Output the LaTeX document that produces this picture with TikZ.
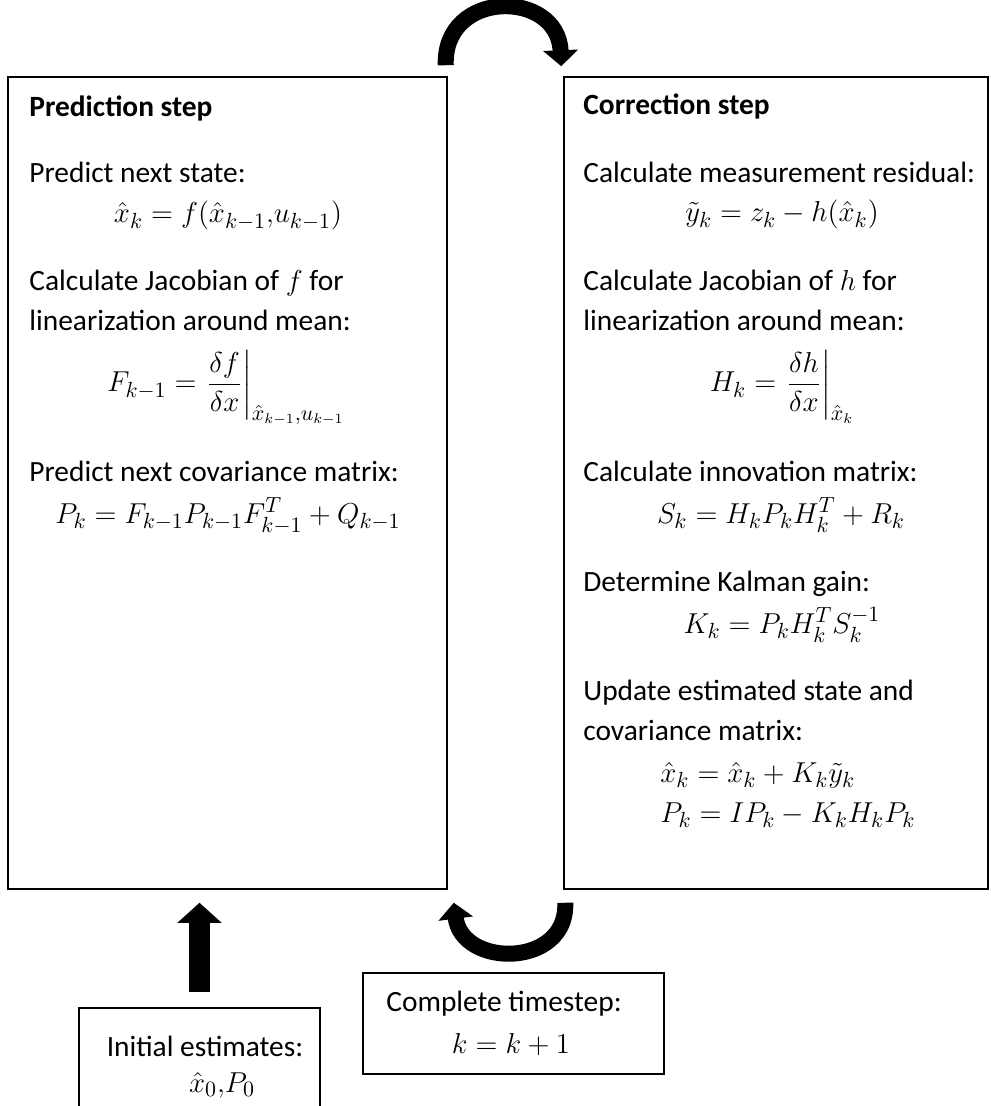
\documentclass[tikz,border=0pt]{standalone}
\usepackage{amsmath}
\usepackage{fontspec}
\setmainfont{Carlito}
\usepackage{tikz}
\usetikzlibrary{arrows.meta, positioning}

\newcommand{\fs}{\fontsize{14.7}{20}\selectfont}
\newcommand{\fm}{\fontsize{15}{20}\selectfont}
\tikzset{
  stepbox/.style={draw, line width=0.75pt, inner sep=0pt},
  txt/.style={anchor=base west, inner sep=0pt, font=\fs},
  eqn/.style={anchor=base, inner sep=0pt, font=\fm},
  curvearrow/.style={line width=8pt, -{Triangle[length=8pt,width=17pt]}},
  uparrow/.style={line width=10.5pt, -{Triangle[length=10pt,width=21.5pt]}},
}

\begin{document}
\begin{tikzpicture}[x=0.5pt, y=-0.5pt]
    \useasboundingbox (0,0) rectangle (990,1106);
    % the two step boxes
    \node[stepbox, minimum width=219.5pt, minimum height=406pt] (pred) at (227.5,483) {};
    \node[stepbox, minimum width=212pt, minimum height=406pt] (corr) at (776,483) {};
    % prediction step
    \node[txt, font=\fs\bfseries] (predtitle) at (29,117) {Prediction step};
    \node[txt] (predstate) at (29,183) {Predict next state:};
    \node[eqn] (eqstate) at (228,223) {$\hat{x}_k = f(\hat{x}_{k-1}{,}u_{k-1})$};
    \node[txt] (predjac1) at (29,291) {Calculate Jacobian of $f$ for};
    \node[txt] (predjac2) at (29,331) {linearization around mean:};
    \node[eqn] (eqjacf) at (226,392) {$F_{k-1} = \left.\dfrac{\delta f}{\delta x}\right|_{\hat{x}_{k-1}{,}u_{k-1}}$};
    \node[txt] (predcov) at (29,481) {Predict next covariance matrix:};
    \node[eqn] (eqcov) at (228,523) {$P_k = F_{k-1}P_{k-1}F_{k-1}^T + Q_{k-1}$};
    % correction step
    \node[txt, font=\fs\bfseries] (corrtitle) at (583,115) {Correction step};
    \node[txt] (corrres) at (583,183) {Calculate measurement residual:};
    \node[eqn] (eqres) at (782,222) {$\tilde{y}_k = z_k - h(\hat{x}_k)$};
    \node[txt] (corrjac1) at (583,291) {Calculate Jacobian of $h$ for};
    \node[txt] (corrjac2) at (583,331) {linearization around mean:};
    \node[eqn] (eqjach) at (782,392) {$H_k = \left.\dfrac{\delta h}{\delta x}\right|_{\hat{x}_k}$};
    \node[txt] (corrinn) at (583,481) {Calculate innovation matrix:};
    \node[eqn] (eqinn) at (781,523) {$S_k = H_kP_kH_k^T + R_k$};
    \node[txt] (corrgain) at (583,591) {Determine Kalman gain:};
    \node[eqn] (eqgain) at (782,633) {$K_k = P_kH_k^TS_k^{-1}$};
    \node[txt] (corrupd1) at (583,700) {Update estimated state and};
    \node[txt] (corrupd2) at (583,740) {covariance matrix:};
    \node[txt, font=\fm] (equpd1) at (660,782) {$\hat{x}_k = \hat{x}_k + K_k\tilde{y}_k$};
    \node[txt, font=\fm] (equpd2) at (660,822) {$P_k = IP_k - K_kH_kP_k$};
    % bottom boxes
    \node[stepbox, minimum width=150.5pt, minimum height=50.5pt] (step) at (513.5,1023.5) {};
    \node[eqn, font=\fs] (steptxt) at (504,1011) {Complete timestep:};
    \node[eqn] (stepeq) at (511,1053) {$k = k+1$};
    \node[stepbox, minimum width=120.5pt, minimum height=56pt] (init) at (199.5,1064) {};
    \node[eqn, font=\fs] (inittxt) at (205,1056) {Initial estimates:};
    \node[eqn] (initeq) at (222,1092) {$\hat{x}_0{,}P_0$};
    % arrows
    \coordinate (t1) at ([xshift=-1pt,yshift=5.5pt]pred.north east);
    \coordinate (t2) at ([xshift=-1pt,yshift=5pt]corr.north west);
    \draw[curvearrow] (t1) .. controls (443,-11) and (558,-11) .. (t2);
    \coordinate (b1) at ([xshift=1pt,yshift=-6.5pt]corr.south west);
    \coordinate (b2) at ([xshift=3pt,yshift=-6.5pt]pred.south east);
    \draw[curvearrow] (b1) .. controls (568,968) and (462,968) .. (b2);
    \draw[uparrow] ([yshift=7.5pt]init.north) -- ([yshift=-6.5pt]init.north |- pred.south);
\end{tikzpicture}
\end{document}
